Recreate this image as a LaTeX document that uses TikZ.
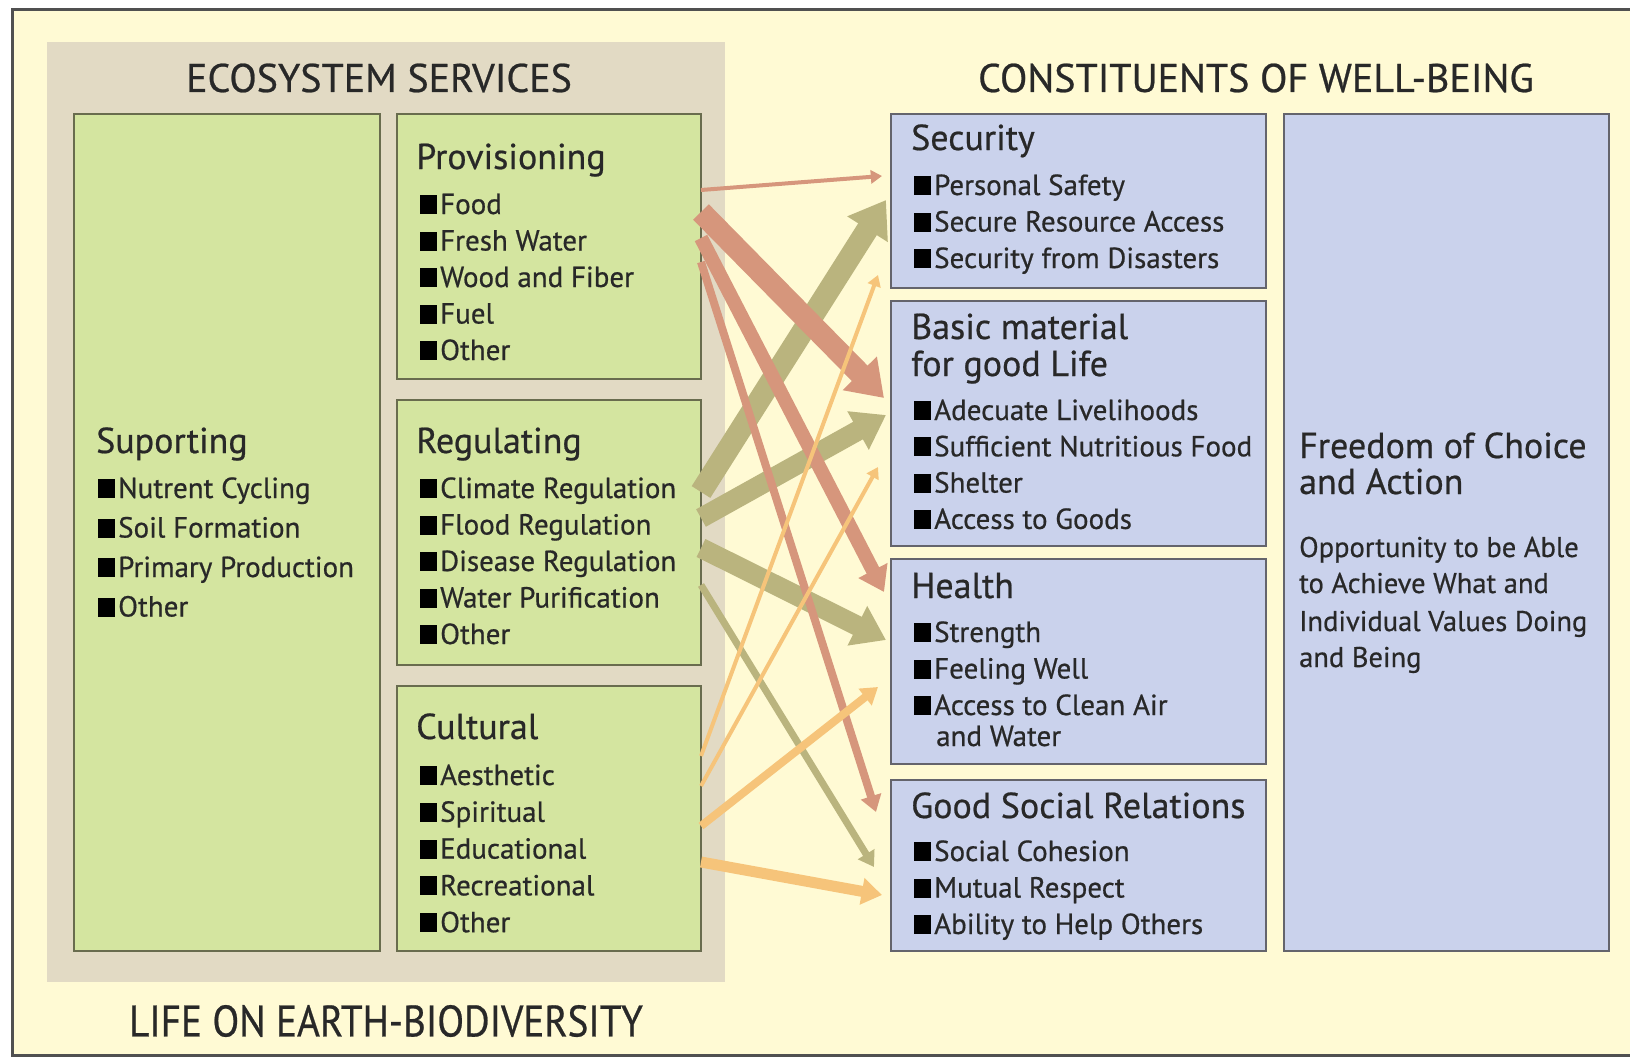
\documentclass[tikz,border=0pt]{standalone}
\usepackage{fontspec}
\usepackage{graphicx}
\setmainfont{PT Sans}[FakeBold=0.6]
\usetikzlibrary{arrows.meta}

\definecolor{paper}{RGB}{255,250,212}
\definecolor{panel}{RGB}{226,218,196}
\definecolor{greenfill}{RGB}{212,229,160}
\definecolor{greenline}{RGB}{105,108,78}
\definecolor{bluefill}{RGB}{202,210,236}
\definecolor{blueline}{RGB}{100,100,108}
\definecolor{frameline}{RGB}{80,80,80}
\definecolor{txt}{RGB}{40,40,40}
\definecolor{redflow}{RGB}{214,150,124}
\definecolor{oliveflow}{RGB}{186,180,126}
\definecolor{orangeflow}{RGB}{246,196,122}

\newcommand\sqb{\textcolor{black}{\rule{17pt}{19pt}}\hspace{3pt}}
\newcommand\headfont{\fontsize{40}{44}\selectfont}
\newcommand\ttlfont{\fontsize{36}{40}\selectfont}
\newcommand\itmfont{\fontsize{29}{32}\selectfont}
\newcommand\bodyfont{\fontsize{28.5}{31}\selectfont}

% list of bulleted items: name prefix, x, first baseline, step, items
\newcommand\svclist[5]{%
  \foreach \t [count=\i from 0] in {#5}
    \node[itm] (#1-\i) at (#2,{#3+\i*#4}) {\sqb\t};}

\begin{document}
\begin{tikzpicture}[x=1pt,y=-1pt,
  greenbox/.style={draw=greenline,line width=2.5pt,fill=greenfill,anchor=north west,inner sep=0pt,outer sep=0pt},
  bluebox/.style={draw=blueline,line width=2.5pt,fill=bluefill,anchor=north west,inner sep=0pt,outer sep=0pt},
  head/.style={inner sep=0pt,font=\headfont,text=txt},
  ttl/.style={anchor=base west,inner sep=0pt,font=\ttlfont,text=txt},
  itm/.style={anchor=base west,inner sep=0pt,font=\itmfont,text=txt},
  body/.style={anchor=base west,inner sep=0pt,font=\bodyfont,text=txt},
  flow/.style={-{Triangle[length=6pt 1.3,width=6pt 1.8]}},
  red/.style={flow,draw=redflow,line width=#1pt},
  olive/.style={flow,draw=oliveflow,line width=#1pt},
  orange/.style={flow,draw=orangeflow,line width=#1pt}]
\useasboundingbox (0,0) rectangle (1630,1057);

% paper and frame
\fill[paper] (12,10) rectangle (1630,1055);
\draw[frameline,line width=3pt] (1630,10) -- (12,10) -- (12,1055) -- (1630,1055);

% ecosystem services panel
\fill[panel] (47,42) rectangle (725,982);
\node[head] (eshead) at (379,78) {ECOSYSTEM SERVICES};
\node[head] (cwhead) at (1256,78) {CONSTITUENTS OF WELL-BEING};
\node[head,font=\fontsize{44}{48}\selectfont] (lifehead) at (386,1021) {\scalebox{0.89}[1]{LIFE ON EARTH-BIODIVERSITY}};

% service boxes
\node[greenbox,minimum width=306pt,minimum height=837pt] (sup) at (74,114) {};
\node[greenbox,minimum width=304pt,minimum height=265pt] (prov) at (397,114) {};
\node[greenbox,minimum width=304pt,minimum height=265pt] (reg) at (397,400) {};
\node[greenbox,minimum width=304pt,minimum height=265pt] (cul) at (397,686) {};

% well-being boxes
\node[bluebox,minimum width=375pt,minimum height=174pt] (sec) at (891,114) {};
\node[bluebox,minimum width=375pt,minimum height=245pt] (bas) at (891,301) {};
\node[bluebox,minimum width=375pt,minimum height=205pt] (hea) at (891,559) {};
\node[bluebox,minimum width=375pt,minimum height=171pt] (soc) at (891,780) {};
\node[bluebox,minimum width=325pt,minimum height=837pt] (fre) at (1284,114) {};

% service texts
\node[ttl] (supt) at (96,453) {Suporting};
\svclist{supi}{98}{498}{39.5}{Nutrent Cycling,Soil Formation,Primary Production,Other}
\node[ttl] (provt) at (416,169) {Provisioning};
\svclist{provi}{420}{214}{36.5}{Food,Fresh Water,Wood and Fiber,Fuel,Other}
\node[ttl] (regt) at (416,453) {Regulating};
\svclist{regi}{420}{498}{36.5}{Climate Regulation,Flood Regulation,Disease Regulation,Water Purification,Other}
\node[ttl] (cult) at (416,739) {Cultural};
\svclist{culi}{420}{785}{36.8}{Aesthetic,Spiritual,Educational,Recreational,Other}

% well-being texts
\node[ttl] (sect) at (911,150) {Security};
\svclist{seci}{914}{195}{36.5}{Personal Safety,Secure Resource Access,Security from Disasters}
\node[ttl] (bast1) at (911,339) {Basic material};
\node[ttl] (bast2) at (911,376) {for good Life};
\svclist{basi}{914}{420}{36.3}{Adecuate Livelihoods,Sufficient Nutritious Food,Shelter,Access to Goods}
\node[ttl] (heat) at (911,598) {Health};
\svclist{heai}{914}{642}{36.5}{Strength,Feeling Well,Access to Clean Air}
\node[itm] (heai-3) at (936,746) {and Water};
\node[ttl] (soct) at (911,818) {Good Social Relations};
\svclist{soci}{914}{861}{36.5}{Social Cohesion,Mutual Respect,Ability to Help Others}
\node[ttl] (fret1) at (1299,458) {Freedom of Choice};
\node[ttl] (fret2) at (1299,494) {and Action};
\node[body] (freb1) at (1299,557) {Opportunity to be Able};
\node[body] (freb2) at (1299,593) {to Achieve What and};
\node[body] (freb3) at (1299,631) {Individual Values Doing};
\node[body] (freb4) at (1299,667) {and Being};

% regulating flows
\draw[olive=22] ([yshift=-92pt]reg.north east) -- ([xshift=-5pt,yshift=-86pt]sec.north west);
\draw[olive=20] ([yshift=-118pt]reg.north east) -- ([xshift=-5pt,yshift=-114pt]bas.north west);
\draw[olive=20] ([yshift=-148pt]reg.north east) -- ([xshift=-5pt,yshift=-81pt]hea.north west);
\draw[olive=7] ([yshift=-185pt]reg.north east) -- ([xshift=-17pt,yshift=-87pt]soc.north west);

% provisioning flows
\draw[red=4] ([yshift=-76pt]prov.north east) -- ([xshift=-9pt,yshift=-62pt]sec.north west);
\draw[red=22] ([yshift=-98pt]prov.north east) -- ([xshift=-7pt,yshift=-97pt]bas.north west);
\draw[red=14] ([yshift=-124pt]prov.north east) -- ([xshift=-7pt,yshift=-33pt]hea.north west);
\draw[red=8] ([yshift=-148pt]prov.north east) -- ([xshift=-15pt,yshift=-32pt]soc.north west);

% cultural flows
\draw[orange=4] ([yshift=-70pt]cul.north east) -- ([xshift=-13pt,yshift=-161pt]sec.north west);
\draw[orange=4] ([yshift=-100pt]cul.north east) -- ([xshift=-13pt,yshift=-166pt]bas.north west);
\draw[orange=8] ([yshift=-140pt]cul.north east) -- ([xshift=-13pt,yshift=-128pt]hea.north west);
\draw[orange=11] ([yshift=-176pt]cul.north east) -- ([xshift=-9pt,yshift=-115pt]soc.north west);
\end{tikzpicture}
\end{document}
